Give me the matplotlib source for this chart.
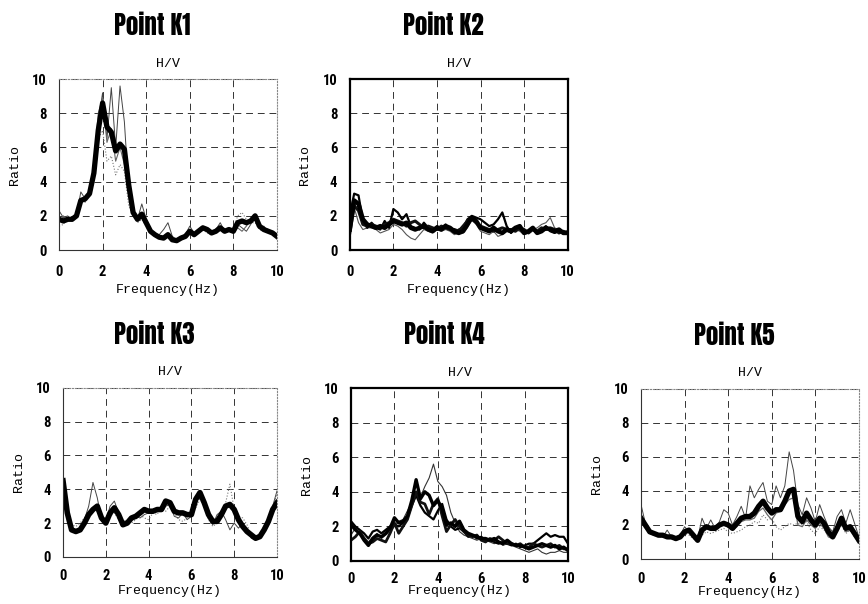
import matplotlib
matplotlib.use('Agg')
import matplotlib.pyplot as plt
from matplotlib import font_manager

# frequency axis (Hz), 0.2 Hz steps
freq = [0.0, 0.2, 0.4, 0.6, 0.8, 1.0, 1.2, 1.4, 1.6, 1.8,
        2.0, 2.2, 2.4, 2.6, 2.8, 3.0, 3.2, 3.4, 3.6, 3.8,
        4.0, 4.2, 4.4, 4.6, 4.8, 5.0, 5.2, 5.4, 5.6, 5.8,
        6.0, 6.2, 6.4, 6.6, 6.8, 7.0, 7.2, 7.4, 7.6, 7.8,
        8.0, 8.2, 8.4, 8.6, 8.8, 9.0, 9.2, 9.4, 9.6, 9.8, 10.0]

# Point K1
k1_mean = [1.8, 1.7, 1.8, 1.8, 2.0, 2.9, 3.0, 3.3, 4.5, 7.0,
           8.6, 7.2, 6.9, 5.8, 6.2, 5.9, 3.8, 2.2, 1.8, 2.1,
           1.6, 1.1, 0.9, 0.75, 0.7, 0.9, 0.6, 0.55, 0.7, 0.8,
           1.1, 0.9, 1.1, 1.3, 1.2, 1.0, 1.1, 1.3, 1.1, 1.2,
           1.1, 1.6, 1.7, 1.6, 1.7, 2.0, 1.4, 1.2, 1.1, 1.0, 0.8]
k1_a = [2.3, 1.9, 2.0, 1.7, 2.0, 3.4, 3.0, 3.5, 5.0, 7.5,
        9.2, 6.5, 9.5, 6.0, 9.6, 7.5, 3.5, 2.0, 1.8, 2.7,
        1.8, 1.0, 0.8, 0.9, 1.2, 1.6, 0.8, 0.6, 0.8, 0.9,
        1.4, 1.0, 1.0, 1.2, 1.3, 1.0, 1.2, 1.6, 1.1, 1.1,
        1.0, 1.5, 1.3, 1.1, 1.5, 2.1, 1.3, 1.4, 1.1, 1.1, 0.9]
k1_b = [1.4, 1.5, 1.9, 1.7, 2.1, 2.7, 3.1, 3.2, 4.3, 6.5,
        7.0, 5.2, 5.5, 4.4, 5.0, 4.6, 2.6, 2.0, 1.6, 1.8,
        1.4, 1.0, 0.8, 0.7, 0.6, 0.8, 0.5, 0.5, 0.6, 0.8,
        1.0, 0.8, 1.0, 1.2, 1.0, 0.9, 1.0, 1.2, 1.0, 1.1,
        1.2, 2.0, 2.2, 1.8, 1.6, 1.6, 1.2, 1.1, 1.0, 0.9, 0.7]
k1_c = [1.6, 2.0, 1.7, 1.8, 1.9, 3.0, 2.8, 3.4, 4.8, 8.0,
        8.9, 6.3, 7.1, 5.2, 6.0, 5.0, 3.3, 2.4, 1.9, 2.0,
        1.5, 1.2, 1.0, 0.8, 0.8, 1.0, 0.7, 0.6, 0.8, 0.9,
        1.2, 1.0, 1.2, 1.4, 1.3, 1.1, 1.2, 1.4, 1.2, 1.3,
        1.0, 1.3, 1.1, 1.4, 1.8, 1.9, 1.4, 1.3, 1.2, 1.0, 0.8]

# Point K2
k2_mean = [1.2, 2.9, 2.7, 1.8, 1.5, 1.4, 1.3, 1.4, 1.3, 1.5,
           1.7, 1.6, 1.5, 1.6, 1.3, 1.2, 1.3, 1.4, 1.2, 1.1,
           1.3, 1.2, 1.4, 1.3, 1.1, 1.0, 1.1, 1.5, 1.9, 1.7,
           1.3, 1.2, 1.1, 1.3, 1.1, 1.0, 1.2, 1.1, 1.3, 1.4,
           1.0, 1.1, 1.3, 1.0, 1.1, 1.3, 1.2, 1.1, 1.2, 1.0, 1.0]
k2_a = [2.0, 3.3, 3.2, 1.7, 1.3, 1.6, 1.3, 1.2, 1.7, 1.3,
        2.4, 2.2, 1.8, 2.1, 1.4, 1.3, 1.2, 1.6, 1.3, 1.2,
        1.4, 1.3, 1.5, 1.2, 1.0, 1.2, 1.3, 1.8, 2.0, 1.9,
        1.8, 1.6, 1.4, 1.5, 1.8, 2.2, 1.4, 1.0, 1.3, 1.2,
        1.0, 1.1, 1.2, 1.0, 1.2, 1.4, 1.1, 1.0, 1.1, 1.0, 1.1]
k2_b = [1.5, 2.5, 1.6, 1.2, 1.3, 1.3, 1.2, 1.0, 1.1, 1.2,
        1.5, 1.4, 1.2, 0.9, 0.7, 0.6, 0.9, 1.2, 1.1, 1.0,
        1.2, 1.1, 1.2, 1.1, 0.9, 1.0, 1.0, 1.3, 1.8, 1.5,
        1.1, 1.0, 0.9, 1.1, 0.8, 0.9, 1.1, 1.0, 1.2, 1.1,
        0.9, 1.0, 1.2, 1.3, 1.5, 1.6, 1.9, 1.3, 1.2, 1.1, 1.0]
k2_c = [1.0, 2.6, 2.3, 1.5, 1.4, 1.5, 1.4, 1.3, 1.5, 1.6,
        1.8, 1.7, 1.6, 1.4, 1.6, 1.7, 1.5, 1.3, 1.4, 1.3,
        1.2, 1.4, 1.3, 1.2, 1.2, 1.1, 1.4, 1.7, 1.8, 1.6,
        1.4, 1.3, 1.2, 1.1, 1.2, 1.3, 1.2, 1.2, 1.1, 1.3,
        1.2, 1.0, 1.2, 1.1, 1.3, 1.2, 1.3, 1.2, 1.0, 1.1, 1.0]

# Point K3
k3_mean = [4.5, 2.6, 1.6, 1.5, 1.6, 2.0, 2.5, 2.8, 3.0, 2.3,
           2.0, 2.6, 2.9, 2.5, 1.9, 2.0, 2.3, 2.4, 2.6, 2.8,
           2.7, 2.7, 2.8, 2.8, 3.3, 3.2, 2.7, 2.6, 2.6, 2.5,
           2.5, 3.4, 3.8, 3.2, 2.5, 2.1, 2.1, 2.5, 3.0, 3.1,
           2.8, 2.2, 1.8, 1.5, 1.3, 1.1, 1.2, 1.6, 2.1, 2.8, 3.2]
k3_a = [4.0, 2.5, 1.7, 1.5, 1.7, 2.2, 3.0, 4.4, 3.5, 2.2,
        2.1, 3.0, 3.3, 2.6, 1.8, 2.0, 2.3, 2.4, 2.3, 2.5,
        2.6, 2.7, 2.9, 2.7, 3.0, 3.1, 2.4, 2.3, 2.6, 2.2,
        2.4, 3.3, 3.7, 3.0, 2.3, 1.9, 2.5, 2.7, 2.2, 1.6,
        2.0, 1.7, 2.0, 1.6, 1.1, 1.0, 1.3, 1.7, 2.3, 3.0, 3.9]
k3_b = [3.6, 2.3, 1.9, 1.8, 2.0, 2.3, 2.6, 2.9, 2.7, 2.4,
        2.2, 2.4, 2.6, 2.2, 2.1, 2.2, 2.0, 2.2, 2.5, 2.3,
        2.2, 2.6, 2.5, 3.0, 2.7, 3.0, 2.6, 2.2, 2.1, 2.3,
        2.4, 2.9, 3.4, 3.0, 2.2, 1.8, 2.0, 2.5, 3.2, 4.3,
        2.8, 2.4, 2.3, 1.9, 1.3, 1.2, 1.4, 1.8, 2.3, 2.9, 3.7]

# Point K4
k4_a = [2.1, 1.8, 1.6, 1.2, 0.9, 1.3, 1.5, 1.4, 1.6, 1.9,
        2.5, 2.2, 2.3, 2.6, 3.5, 4.7, 3.6, 4.0, 3.8, 3.2,
        3.5, 3.0, 2.1, 2.2, 2.0, 2.3, 1.8, 1.6, 1.5, 1.4,
        1.3, 1.3, 1.2, 1.3, 1.1, 1.0, 1.2, 1.0, 0.9, 0.9,
        0.8, 0.7, 0.8, 0.9, 1.0, 0.9, 0.8, 0.9, 0.7, 0.8, 0.6]
k4_b = [1.5, 1.9, 1.8, 1.4, 1.1, 1.4, 1.6, 1.3, 1.5, 1.7,
        2.0, 2.3, 2.4, 2.9, 3.4, 3.9, 3.7, 4.3, 4.8, 5.6,
        4.6, 4.3, 3.8, 2.8, 2.2, 1.7, 1.5, 1.4, 1.3, 1.2,
        1.3, 1.2, 1.1, 1.0, 1.1, 0.9, 1.0, 0.9, 0.8, 0.7,
        0.6, 0.5, 0.6, 0.7, 0.5, 0.4, 0.5, 0.5, 0.6, 0.5, 0.5]
k4_c = [2.3, 2.0, 1.8, 1.6, 1.3, 1.7, 1.8, 1.6, 1.8, 2.0,
        2.1, 2.0, 2.2, 2.5, 3.2, 3.8, 3.2, 2.8, 2.6, 2.4,
        2.9, 3.3, 2.4, 2.0, 1.8, 1.9, 1.7, 1.4, 1.5, 1.3,
        1.4, 1.2, 1.2, 1.1, 1.0, 1.1, 1.0, 0.9, 1.0, 0.8,
        0.9, 1.0, 1.0, 1.2, 1.4, 1.6, 1.4, 1.5, 1.4, 1.4, 1.0]
k4_d = [1.2, 1.4, 1.7, 1.3, 1.0, 1.1, 1.3, 1.2, 1.1, 1.6,
        2.2, 1.6, 2.0, 2.4, 3.2, 4.0, 3.4, 3.3, 2.7, 3.3,
        3.6, 2.6, 1.7, 2.1, 2.4, 2.0, 1.7, 1.5, 1.4, 1.5,
        1.2, 1.1, 1.3, 1.2, 1.4, 1.2, 1.0, 1.0, 0.9, 1.0,
        0.8, 0.8, 1.0, 0.9, 0.8, 0.9, 1.0, 0.8, 0.9, 0.7, 0.7]

# Point K5
k5_mean = [2.4, 2.0, 1.6, 1.5, 1.4, 1.4, 1.3, 1.3, 1.2, 1.3,
           1.6, 1.7, 1.4, 1.1, 1.7, 1.9, 1.8, 1.8, 2.0, 2.1,
           2.0, 1.8, 2.1, 2.4, 2.5, 2.5, 2.7, 3.1, 3.4, 3.0,
           2.7, 2.9, 2.9, 3.4, 4.0, 4.1, 2.5, 2.2, 2.7, 2.3,
           2.0, 2.4, 2.1, 1.6, 1.3, 1.8, 2.4, 1.8, 1.9, 1.5, 1.1]
k5_a = [3.2, 2.1, 1.6, 1.5, 1.4, 1.3, 1.7, 1.3, 1.2, 1.4,
        1.9, 1.6, 1.3, 1.2, 2.4, 1.8, 2.3, 1.8, 2.2, 2.9,
        2.7, 2.0, 2.5, 3.1, 2.4, 4.3, 3.6, 4.1, 4.5, 3.4,
        3.2, 4.3, 3.6, 4.3, 6.3, 5.2, 3.2, 2.6, 3.6, 3.0,
        2.2, 3.2, 2.5, 1.9, 1.6, 2.5, 2.9, 2.1, 2.9, 2.1, 1.3]
k5_b = [1.8, 1.9, 1.5, 1.4, 1.3, 1.3, 1.2, 1.2, 1.1, 1.2,
        1.5, 1.4, 1.2, 1.1, 1.4, 1.6, 1.5, 1.6, 1.7, 1.8,
        1.6, 1.5, 1.6, 1.7, 1.9, 2.0, 2.2, 2.1, 2.6, 2.3,
        2.4, 1.9, 1.7, 1.9, 2.1, 2.0, 2.1, 2.0, 2.2, 1.7,
        1.5, 1.9, 1.7, 1.4, 1.2, 1.6, 2.0, 1.5, 1.7, 1.3, 0.9]
k5_c = [2.2, 1.8, 1.5, 1.4, 1.4, 1.3, 1.3, 1.2, 1.2, 1.4,
        1.7, 1.6, 1.3, 1.0, 1.6, 2.0, 1.7, 1.9, 2.1, 2.0,
        1.9, 1.7, 1.9, 2.2, 2.3, 2.3, 2.4, 2.8, 3.0, 2.6,
        2.3, 2.7, 2.8, 3.2, 3.5, 3.6, 2.0, 1.9, 2.3, 2.0,
        1.8, 2.1, 1.8, 1.3, 1.2, 1.6, 2.2, 1.6, 1.7, 1.4, 1.0]

titles = ['Point K1', 'Point K2', 'Point K3', 'Point K4', 'Point K5']
xticks = [0, 2, 4, 6, 8, 10]
yticks = [0, 2, 4, 6, 8, 10]


def pick(prefs, fallback):
    names = {f.name for f in font_manager.fontManager.ttflist}
    for p in prefs:
        if p in names:
            return [p, fallback]
    return [fallback]


# Impact-like heavy condensed face for the panel titles
title_font = pick(['Anton', 'League Gothic', 'Bebas Neue', 'Oswald', 'Fjalla One'], 'DejaVu Sans')
tick_font = pick(['Roboto Condensed', 'Archivo Narrow', 'PT Sans Narrow', 'Oswald'], 'DejaVu Sans')
mono_font = ['Liberation Mono', 'DejaVu Sans Mono']

# [left, bottom, width, height] in figure fraction
boxes = [
    [0.068, 0.586, 0.251, 0.283],
    [0.403, 0.586, 0.251, 0.283],
    [0.0726, 0.078, 0.2465, 0.280],
    [0.4044, 0.0712, 0.250, 0.2864],
    [0.7385, 0.0745, 0.251, 0.2815],
]
bold_frame = [False, True, False, True, False]
# (x tick pad, xlabel pad) per panel; bottom row sits close to the figure edge
xpads = [(11, 3), (11, 3), (9, 1), (8, -1), (9, 0)]

# (series, linewidth, colour, linestyle) per panel, thick average drawn last
panels = [
    [(k1_b, 0.8, '#777777', ':'), (k1_a, 0.7, '#444444', '-'), (k1_c, 0.8, '#666666', '-'), (k1_mean, 3.8, 'black', '-')],
    [(k2_b, 0.8, '#555555', '-'), (k2_a, 1.6, 'black', '-'), (k2_c, 2.2, '#111111', '-'), (k2_mean, 3.2, 'black', '-')],
    [(k3_b, 0.8, '#777777', ':'), (k3_a, 0.7, '#444444', '-'), (k3_mean, 4.0, 'black', '-')],
    [(k4_b, 0.8, '#333333', '-'), (k4_c, 1.6, 'black', '-'), (k4_d, 2.0, '#111111', '-'), (k4_a, 2.4, 'black', '-')],
    [(k5_b, 0.8, '#777777', ':'), (k5_a, 0.7, '#444444', '-'), (k5_c, 0.9, '#666666', '-'), (k5_mean, 3.8, 'black', '-')],
]

fig = plt.figure(figsize=(8.68, 6.04), dpi=100)

for i, box in enumerate(boxes):
    ax = fig.add_axes(box)
    for ys, lw, col, ls in panels[i]:
        ax.plot(freq, ys, color=col, lw=lw, ls=ls, solid_joinstyle='round')
    ax.set_xlim(0, 10)
    ax.set_ylim(0, 10)
    ax.set_xticks(xticks)
    ax.set_yticks(yticks)
    ax.grid(True, color='#333333', lw=0.7, ls=(0, (7, 5)))
    tpad, lpad = xpads[i]
    ax.tick_params(axis='x', length=0, pad=tpad, labelsize=10.5)
    ax.tick_params(axis='y', length=0, pad=9, labelsize=10.5)
    for lab in ax.get_xticklabels() + ax.get_yticklabels():
        lab.set_fontweight('bold')
        lab.set_family(tick_font)
    if bold_frame[i]:
        for sp in ax.spines.values():
            sp.set_linewidth(1.6)
            sp.set_color('black')
    else:
        for side, sp in ax.spines.items():
            sp.set_linewidth(0.8)
            if side in ('top', 'right'):
                sp.set_color('#888888')
                sp.set_linestyle(':')
            else:
                sp.set_color('#333333')
    ax.set_xlabel('Frequency(Hz)', family=mono_font, fontsize=9.5, labelpad=lpad)
    ax.set_ylabel('Ratio', family=mono_font, fontsize=9.5, labelpad=8)
    ax.set_title('H/V', family=mono_font, fontsize=9.5, pad=9)

    cx = box[0] + box[2] / 2 - 0.018
    top = box[1] + box[3]
    fig.text(cx, top + 0.088, titles[i], ha='center', va='center',
             fontsize=18, fontweight='heavy', family=title_font)

fig.savefig('out.png', dpi=100)
